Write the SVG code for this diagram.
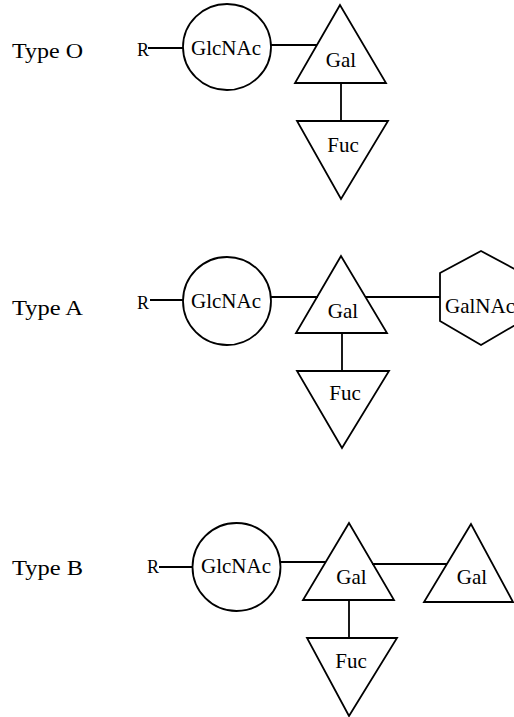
<svg xmlns="http://www.w3.org/2000/svg" width="514" height="717" viewBox="0 0 514 717">
<style>
.s{fill:none;stroke:#000;stroke-width:1.8;stroke-linejoin:miter}
.c{stroke:#000;stroke-width:1.8;fill:none}
text{font-family:'Liberation Serif','DejaVu Serif','Times New Roman',Times,serif;fill:#000}
.t{font-size:22px}
.r{font-size:18px}
.n{font-size:21px;text-anchor:middle}
</style>
<rect width="514" height="717" fill="#fff"/>
<text class="t" x="12" y="58" textLength="71" lengthAdjust="spacingAndGlyphs" style="font-family:'Liberation Serif',serif">Type O</text>
<text class="t" x="12" y="315" textLength="71" lengthAdjust="spacingAndGlyphs" style="font-family:'Liberation Serif',serif">Type A</text>
<text class="t" x="12" y="575" textLength="71" lengthAdjust="spacingAndGlyphs" style="font-family:'Liberation Serif',serif">Type B</text>
<g id="connectors">
<line class="c" x1="148" y1="48" x2="183" y2="48"/>
<line class="c" x1="271" y1="45" x2="317" y2="45"/>
<line class="c" x1="341" y1="83" x2="341" y2="121"/>
<line class="c" x1="150" y1="300" x2="183" y2="300"/>
<line class="c" x1="271" y1="297" x2="318" y2="297"/>
<line class="c" x1="365" y1="297" x2="440" y2="297"/>
<line class="c" x1="342" y1="333" x2="342" y2="371"/>
<line class="c" x1="159" y1="567" x2="193" y2="567"/>
<line class="c" x1="280" y1="562" x2="326" y2="562"/>
<line class="c" x1="372" y1="564" x2="447" y2="564"/>
<line class="c" x1="349" y1="600" x2="349" y2="638"/>
</g>
<g id="O-R"><text class="r" x="137" y="56">R</text></g>
<g id="O-GlcNAc"><ellipse class="s" cx="227" cy="47" rx="44" ry="43"/><text class="n" x="226" y="55">GlcNAc</text></g>
<g id="O-Gal"><polygon class="s" points="340,5 295,83 386,83"/><text class="n" x="341" y="67">Gal</text></g>
<g id="O-Fuc"><polygon class="s" points="297,121 388,121 341,199"/><text class="n" x="343" y="152">Fuc</text></g>
<g id="A-R"><text class="r" x="137" y="309">R</text></g>
<g id="A-GlcNAc"><ellipse class="s" cx="227" cy="301" rx="44" ry="44"/><text class="n" x="226" y="308">GlcNAc</text></g>
<g id="A-Gal"><polygon class="s" points="341,256 296,333 387,333"/><text class="n" x="343" y="318">Gal</text></g>
<g id="A-GalNAc"><polygon class="s" points="481,251 440,273 440,321 481,345 522,321 522,273"/><text class="n" x="480" y="313">GalNAc</text></g>
<g id="A-Fuc"><polygon class="s" points="297,371 389,371 342,448"/><text class="n" x="345" y="400">Fuc</text></g>
<g id="B-R"><text class="r" x="147" y="573">R</text></g>
<g id="B-GlcNAc"><ellipse class="s" cx="236.5" cy="567" rx="44" ry="44"/><text class="n" x="236" y="573">GlcNAc</text></g>
<g id="B-Gal"><polygon class="s" points="349,523 303,600 394,600"/><text class="n" x="351.5" y="584">Gal</text></g>
<g id="B-Gal2"><polygon class="s" points="471,524 424,602 513,602"/><text class="n" x="472" y="584">Gal</text></g>
<g id="B-Fuc"><polygon class="s" points="307,638 397,638 349,716"/><text class="n" x="351" y="668">Fuc</text></g>
</svg>
